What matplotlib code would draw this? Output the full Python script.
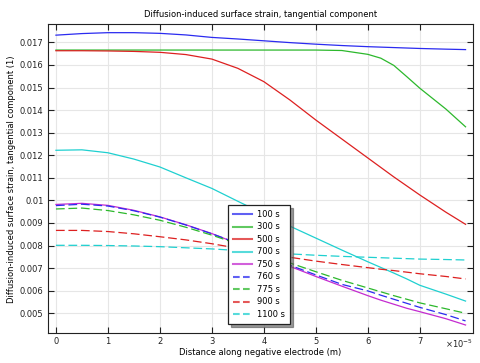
import matplotlib
matplotlib.use("Agg")
import matplotlib.pyplot as plt
from matplotlib.ticker import FuncFormatter
import numpy as np

# x positions along the electrode, in units of 1e-5 m
x_pts = [0, 0.5, 1, 1.5, 2, 2.5, 3, 3.5, 4, 4.5, 5, 5.5, 6, 6.25, 6.5, 6.75, 7, 7.5, 7.88]

labels = ["100 s", "300 s", "500 s", "700 s", "750 s", "760 s", "775 s", "900 s", "1100 s"]

strain_100 = [0.01732, 0.01739, 0.01743, 0.01743, 0.01740, 0.01733, 0.01722, 0.01715, 0.01707, 0.01699,
              0.01692, 0.01686, 0.01681, 0.01679, 0.01677, 0.01675, 0.01673, 0.01670, 0.01668]
strain_300 = [0.01666, 0.01666, 0.01666, 0.01666, 0.01666, 0.01666, 0.01666, 0.01666, 0.01666, 0.01666,
              0.01666, 0.01664, 0.01647, 0.01630, 0.01598, 0.01548, 0.01497, 0.01405, 0.01326]
strain_500 = [0.01663, 0.01663, 0.01662, 0.01660, 0.01656, 0.01646, 0.01626, 0.01585, 0.01526, 0.01445,
              0.01356, 0.01272, 0.01188, 0.01146, 0.01104, 0.01064, 0.01024, 0.00948, 0.00894]
strain_700 = [0.01222, 0.01224, 0.01211, 0.01183, 0.01148, 0.01100, 0.01053, 0.00996, 0.00940, 0.00886,
              0.00833, 0.00780, 0.00728, 0.00703, 0.00678, 0.00652, 0.00624, 0.00585, 0.00554]
strain_750 = [0.00982, 0.00987, 0.00978, 0.00956, 0.00927, 0.00892, 0.00853, 0.00808, 0.00758, 0.00708,
              0.00663, 0.00620, 0.00578, 0.00558, 0.00540, 0.00522, 0.00507, 0.00476, 0.00448]
strain_760 = [0.00977, 0.00983, 0.00975, 0.00954, 0.00926, 0.00891, 0.00852, 0.00810, 0.00763, 0.00713,
              0.00670, 0.00628, 0.00599, 0.00580, 0.00562, 0.00544, 0.00526, 0.00494, 0.00466]
strain_775 = [0.00962, 0.00966, 0.00955, 0.00936, 0.00912, 0.00881, 0.00846, 0.00807, 0.00766, 0.00723,
              0.00684, 0.00646, 0.00612, 0.00595, 0.00578, 0.00562, 0.00546, 0.00520, 0.00500]
strain_900 = [0.00867, 0.00867, 0.00862, 0.00852, 0.00839, 0.00825, 0.00808, 0.00788, 0.00768, 0.00748,
              0.00731, 0.00716, 0.00702, 0.00695, 0.00689, 0.00682, 0.00675, 0.00663, 0.00652]
strain_1100 = [0.00801, 0.00801, 0.00800, 0.00798, 0.00795, 0.00790, 0.00785, 0.00778, 0.00771, 0.00763,
               0.00757, 0.00752, 0.00748, 0.00746, 0.00744, 0.00742, 0.00740, 0.00738, 0.00736]

series = [strain_100, strain_300, strain_500, strain_700, strain_750,
          strain_760, strain_775, strain_900, strain_1100]
colors = ["#2b2bf0", "#2cb82c", "#dd2020", "#1fd0d0", "#c42bd0",
          "#2b2bf0", "#2cb82c", "#dd2020", "#1fd0d0"]
styles = ["-"] * 5 + [(0, (7, 3))] * 4

x_m = np.array(x_pts) * 1e-5

fig = plt.figure(figsize=(4.81, 3.63), dpi=100)
ax = fig.add_axes([0.099, 0.082, 0.884, 0.851])

for y, lab, c, ls in zip(series, labels, colors, styles):
    ax.plot(x_m, y, color=c, linestyle=ls, linewidth=0.9, label=lab)

ax.set_xlim(-0.16e-5, 8.02e-5)
ax.set_ylim(0.004115, 0.0178)
ax.set_xticks(np.arange(0, 8) * 1e-5)
ax.set_yticks(np.arange(0.005, 0.0175, 0.001))
ax.xaxis.set_major_formatter(FuncFormatter(lambda v, _: f"{v / 1e-5:.0f}"))
ax.yaxis.set_major_formatter(FuncFormatter(lambda v, _: f"{v:.3f}".rstrip("0")))

ax.tick_params(direction="in", top=True, right=True, length=4, width=0.8,
               labelsize=6.0, colors="#222222", pad=3)
ax.grid(True, color="#e6e6e6", linewidth=0.8)
ax.set_axisbelow(True)
for s in ax.spines.values():
    s.set_color("#222222")
    s.set_linewidth(0.8)

ax.set_title("Diffusion-induced surface strain, tangential component", fontsize=6.0, pad=5)
ax.set_xlabel("Distance along negative electrode (m)", fontsize=6.0, labelpad=1)
ax.set_ylabel("Diffusion-induced surface strain, tangential component (1)", fontsize=6.0, labelpad=3)
ax.text(1.0, -0.013, r"$\times$10$^{-5}$", transform=ax.transAxes, ha="right", va="top",
        fontsize=6.0, color="#222222")

leg = ax.legend(loc="lower left", bbox_to_anchor=(0.424, 0.03), fontsize=6.0, frameon=True,
                fancybox=False, shadow={"color": "#555555", "alpha": 0.6}, handlelength=2.3,
                handletextpad=0.65, labelspacing=0.42, borderpad=0.6, borderaxespad=0)
leg.get_frame().set_edgecolor("#222222")
leg.get_frame().set_linewidth(0.9)
for ln, ls in zip(leg.get_lines(), styles):
    ln.set_linewidth(1.5)
    ln.set_alpha(0.75)
    if ls != "-":
        ln.set_linestyle((0, (3.2, 1.6)))

fig.savefig("out.png", dpi=100)
